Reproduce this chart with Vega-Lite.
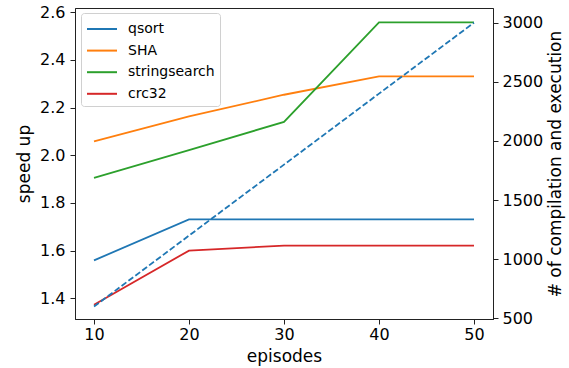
{
  "$schema": "https://vega.github.io/schema/vega-lite/v6.json",
  "width": 418,
  "height": 311,
  "autosize": "none",
  "padding": {"left": 75, "top": 8, "right": 77, "bottom": 49},
  "background": "white",
  "config": {
    "font": "DejaVu Sans",
    "view": {"stroke": "#222", "strokeWidth": 1},
    "axis": {
      "labelFont": "DejaVu Sans",
      "titleFont": "DejaVu Sans",
      "labelFontSize": 16,
      "titleFontSize": 17,
      "titleFontWeight": "normal",
      "labelColor": "black",
      "titleColor": "black",
      "tickColor": "#222",
      "domainColor": "#222",
      "tickSize": 5,
      "grid": false
    }
  },
  "datasets": {
    "speed": [
      {"episode": 10, "series": "qsort", "speedup": 1.559},
      {"episode": 20, "series": "qsort", "speedup": 1.731},
      {"episode": 30, "series": "qsort", "speedup": 1.731},
      {"episode": 40, "series": "qsort", "speedup": 1.731},
      {"episode": 50, "series": "qsort", "speedup": 1.731},
      {"episode": 10, "series": "SHA", "speedup": 2.058},
      {"episode": 20, "series": "SHA", "speedup": 2.163},
      {"episode": 30, "series": "SHA", "speedup": 2.254},
      {"episode": 40, "series": "SHA", "speedup": 2.331},
      {"episode": 50, "series": "SHA", "speedup": 2.331},
      {"episode": 10, "series": "stringsearch", "speedup": 1.905},
      {"episode": 20, "series": "stringsearch", "speedup": 2.022},
      {"episode": 30, "series": "stringsearch", "speedup": 2.14},
      {"episode": 40, "series": "stringsearch", "speedup": 2.558},
      {"episode": 50, "series": "stringsearch", "speedup": 2.558},
      {"episode": 10, "series": "crc32", "speedup": 1.373},
      {"episode": 20, "series": "crc32", "speedup": 1.6},
      {"episode": 30, "series": "crc32", "speedup": 1.621},
      {"episode": 40, "series": "crc32", "speedup": 1.621},
      {"episode": 50, "series": "crc32", "speedup": 1.621}
    ],
    "count": [
      {"episode": 10, "runs": 600},
      {"episode": 20, "runs": 1200},
      {"episode": 30, "runs": 1800},
      {"episode": 40, "runs": 2400},
      {"episode": 50, "runs": 3000}
    ]
  },
  "layer": [
    {
      "data": {"name": "speed"},
      "mark": {"type": "line", "strokeWidth": 1.8, "clip": true},
      "encoding": {
        "x": {
          "field": "episode", "type": "quantitative",
          "scale": {"domain": [8, 52], "nice": false, "zero": false},
          "axis": {"values": [10, 20, 30, 40, 50], "title": "episodes", "labelPadding": 2, "titlePadding": 6, "labelFlush": false}
        },
        "y": {
          "field": "speedup", "type": "quantitative",
          "scale": {"domain": [1.313, 2.618], "nice": false, "zero": false},
          "axis": {"orient": "left", "values": [1.4, 1.6, 1.8, 2.0, 2.2, 2.4, 2.6], "format": ".1f", "title": "speed up", "labelPadding": 5, "titlePadding": 6, "labelFlush": false}
        },
        "color": {
          "field": "series", "type": "nominal",
          "scale": {"domain": ["qsort", "SHA", "stringsearch", "crc32"], "range": ["#1f77b4", "#ff7f0e", "#2ca02c", "#d62728"]},
          "legend": {
            "title": null,
            "orient": "none",
            "legendX": 6,
            "legendY": 5,
            "symbolType": "M-1,0H2",
            "symbolSize": 400,
            "symbolStrokeWidth": 2,
            "symbolFillColor": "transparent",
            "labelFont": "DejaVu Sans",
            "labelFontSize": 14,
            "labelColor": "black",
            "labelOffset": 20,
            "rowPadding": 3.6,
            "padding": 5,
            "strokeColor": "#d0d0d0",
            "fillColor": "rgba(255,255,255,0.8)",
            "cornerRadius": 3
          }
        }
      }
    },
    {
      "data": {"name": "count"},
      "mark": {"type": "line", "strokeWidth": 1.8, "strokeDash": [6, 2.6], "color": "#1f77b4", "clip": true},
      "encoding": {
        "x": {"field": "episode", "type": "quantitative"},
        "y": {
          "field": "runs", "type": "quantitative",
          "scale": {"domain": [495, 3124], "nice": false, "zero": false},
          "axis": {"orient": "right", "values": [500, 1000, 1500, 2000, 2500, 3000], "format": "d", "title": "# of compilation and execution", "titleAngle": 270, "titleBaseline": "top", "labelPadding": 4, "titlePadding": 5, "labelFlush": false}
        }
      }
    }
  ],
  "resolve": {"scale": {"y": "independent"}}
}
